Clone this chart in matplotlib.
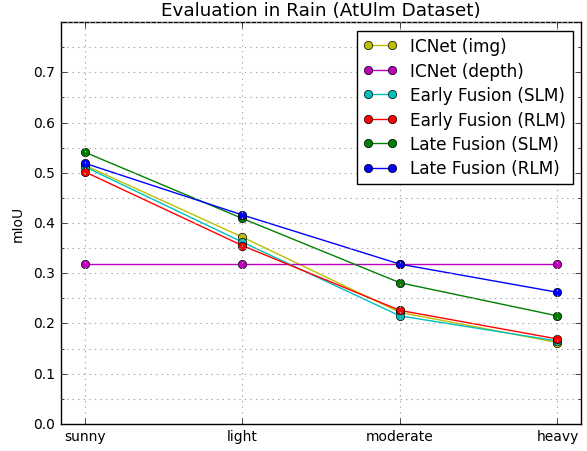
import matplotlib

matplotlib.use("Agg")
import matplotlib.pyplot as plt
from matplotlib.ticker import MultipleLocator

conditions = ["sunny", "light", "moderate", "heavy"]
icnet_img = [0.515, 0.372, 0.222, 0.162]
icnet_depth = [0.319, 0.319, 0.319, 0.319]
early_slm = [0.512, 0.362, 0.215, 0.165]
early_rlm = [0.502, 0.355, 0.226, 0.169]
late_slm = [0.541, 0.409, 0.281, 0.215]
late_rlm = [0.519, 0.416, 0.318, 0.262]

series = [
    ("ICNet (img)", icnet_img, "y"),
    ("ICNet (depth)", icnet_depth, "m"),
    ("Early Fusion (SLM)", early_slm, "c"),
    ("Early Fusion (RLM)", early_rlm, "r"),
    ("Late Fusion (SLM)", late_slm, "g"),
    ("Late Fusion (RLM)", late_rlm, "b"),
]

plt.style.use("classic")
fig = plt.figure(figsize=(5.87, 4.52), dpi=100, facecolor="white")
ax = fig.add_axes([0.104, 0.06, 0.886, 0.889])

x = range(len(conditions))
for label, vals, c in series:
    ax.plot(x, vals, "-o", color=c, label=label, markersize=6)

ax.set_xlim(-0.15, 3.15)
ax.set_ylim(0, 0.8)
ax.set_xticks(list(x))
ax.set_xticklabels(conditions)
ax.set_yticks([0.0, 0.1, 0.2, 0.3, 0.4, 0.5, 0.6, 0.7])
ax.yaxis.set_minor_locator(MultipleLocator(0.05))
ax.grid(True, which="both", linestyle=":", color="0.65", linewidth=0.8)
ax.tick_params(labelsize=10)
ax.set_ylabel("mIoU", fontsize=10, labelpad=6)
ax.set_title("Evaluation in Rain (AtUlm Dataset)", fontsize=13.2)
ax.legend(loc="upper right", numpoints=2, fontsize=12.2, handlelength=2.0,
          handletextpad=0.75, labelspacing=0.38, borderaxespad=0.5)

fig.savefig("out.png", dpi=100, facecolor="white")
